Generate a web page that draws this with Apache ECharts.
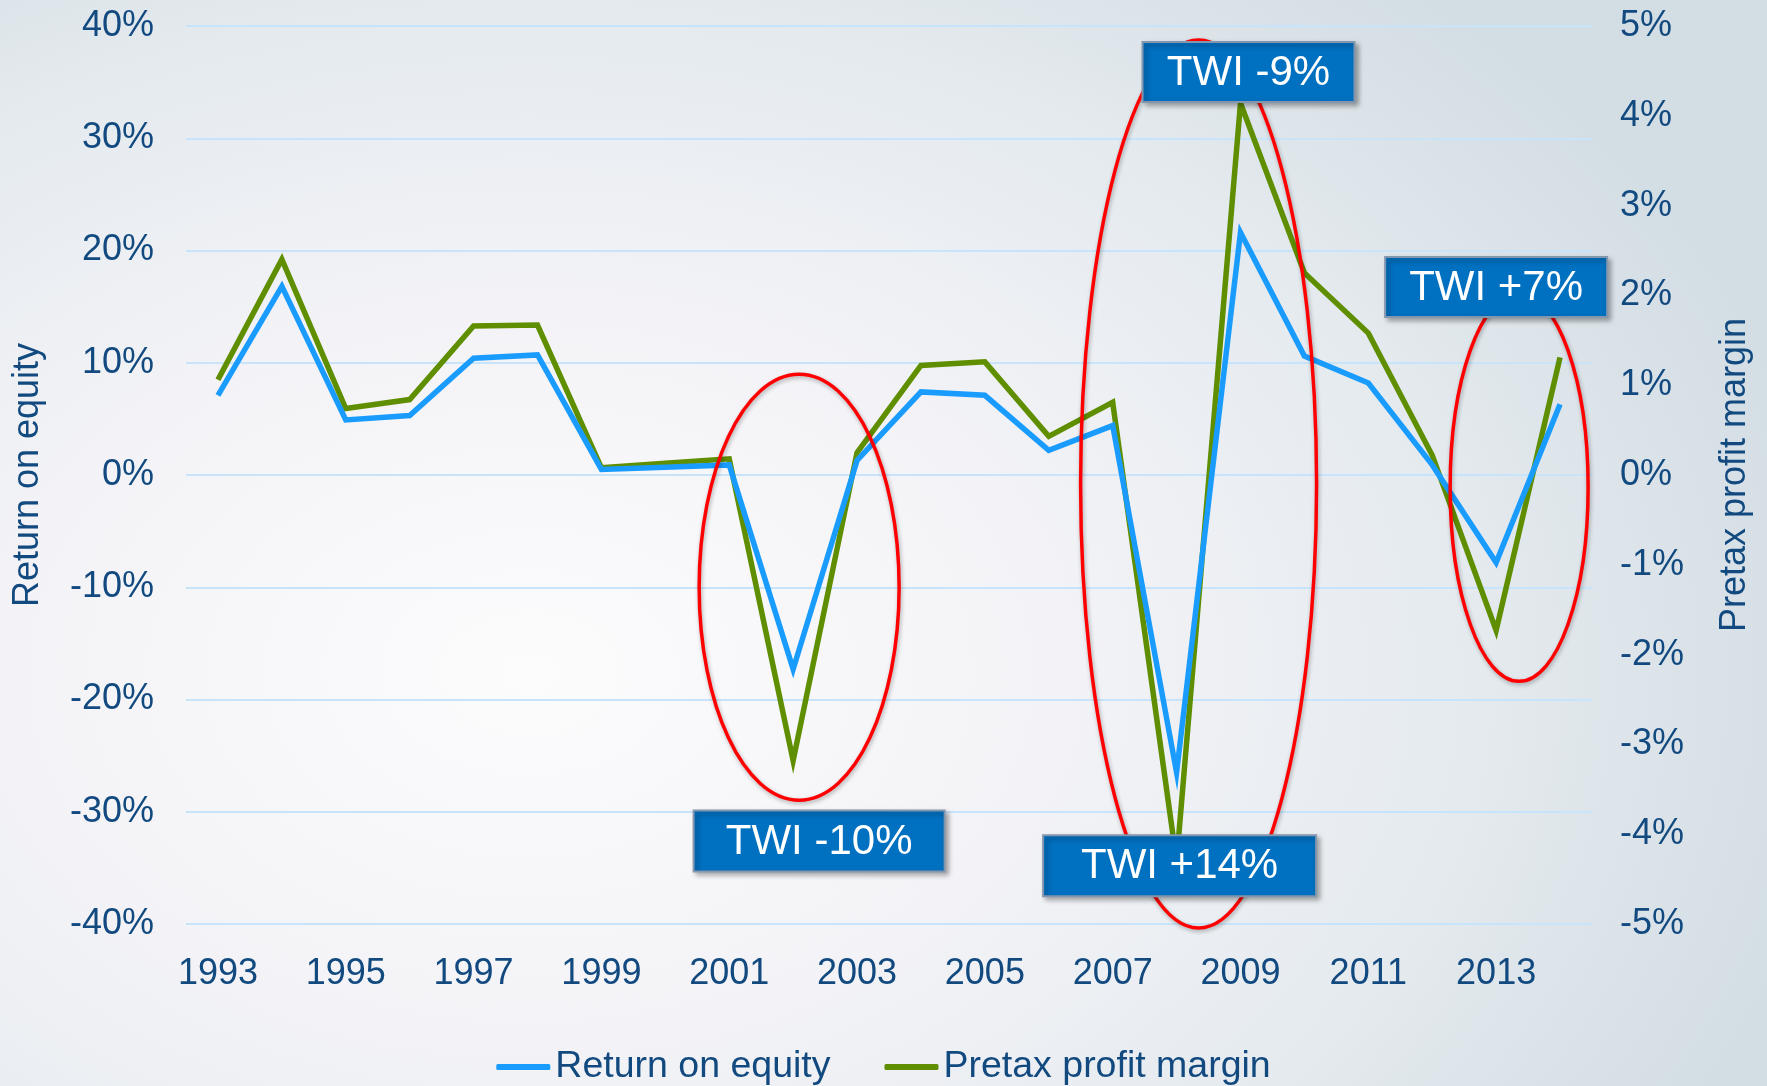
<!DOCTYPE html>
<html>
<head>
<meta charset="utf-8">
<title>Return on equity vs pretax profit margin</title>
<script src="https://cdn.jsdelivr.net/npm/echarts@6/dist/echarts.min.js"></script>
<style>
  html, body { margin: 0; padding: 0; }
  #chart {
    width: 1767px;
    height: 1086px;
    background: radial-gradient(ellipse 75% 85% at 30% 62%, #fcfcfd 0%, #f3f3f7 40%, #e4eaee 72%, #d3dde4 100%);
  }
</style>
</head>
<body>
<div id="chart"></div>
<script>
  // values
  var years = ['1993', '1994', '1995', '1996', '1997', '1998', '1999', '2000', '2001', '2002', '2003',
               '2004', '2005', '2006', '2007', '2008', '2009', '2010', '2011', '2012', '2013', '2014'];
  var roe = [7.1, 16.8, 4.9, 5.3, 10.4, 10.7, 0.5, 0.7, 0.9, -17.3, 1.3,
             7.4, 7.1, 2.2, 4.4, -26.5, 21.6, 10.6, 8.2, 0.9, -7.8, 6.3];
  var pretax = [1.06, 2.40, 0.74, 0.84, 1.66, 1.67, 0.08, 0.13, 0.18, -3.18, 0.25,
                1.22, 1.26, 0.43, 0.81, -4.3, 4.14, 2.25, 1.58, 0.22, -1.73, 1.31];

  // annotations, anchored to (year, return on equity value) plus a pixel shift
  var rings = [
    {year: '2002', value: -10, dx: 6, rx: 100, ry: 213},
    {year: '2008', value: -0.8, dx: 22, rx: 118, ry: 444},
    {year: '2013', value: -1.1, dx: 23, rx: 69, ry: 194}
  ];
  var notes = [
    {text: 'TWI -10%', year: '2002', value: -32.6, dx: 26, w: 251, h: 61},
    {text: 'TWI +14%', year: '2008', value: -34.8, dx: 3, w: 273, h: 61},
    {text: 'TWI -9%', year: '2009', value: 35.9, dx: 8, w: 212, h: 60},
    {text: 'TWI +7%', year: '2013', value: 16.75, dx: 0, w: 222, h: 60}
  ];

  var font = 'Liberation Sans, Arial, sans-serif';
  var ink = '#124a80';

  var myChart = echarts.init(document.getElementById('chart'));
  var option = {
    backgroundColor: 'transparent',
    textStyle: {fontFamily: font},
    grid: {left: 186, right: 175, top: 26, bottom: 162},
    legend: {
      top: 1043,
      left: 'center',
      icon: 'roundRect',
      itemWidth: 54,
      itemHeight: 6,
      itemGap: 54,
      textStyle: {fontSize: 37.5, color: ink, fontFamily: font},
      data: ['Return on equity', 'Pretax profit margin']
    },
    xAxis: {
      type: 'category',
      data: years,
      axisLine: {show: false},
      axisTick: {show: false},
      axisLabel: {interval: 1, fontSize: 36, color: ink, margin: 32}
    },
    yAxis: [
      {
        type: 'value',
        min: -40,
        max: 40,
        interval: 10,
        name: 'Return on equity',
        nameLocation: 'middle',
        nameGap: 140,
        nameTextStyle: {fontSize: 36, color: ink},
        axisLabel: {formatter: '{value}%', fontSize: 36, color: ink, margin: 32},
        splitLine: {lineStyle: {color: '#c8e4fb', width: 2}}
      },
      {
        type: 'value',
        min: -5,
        max: 5,
        interval: 1,
        position: 'right',
        name: 'Pretax profit margin',
        nameLocation: 'middle',
        nameRotate: 90,
        nameGap: 125,
        nameTextStyle: {fontSize: 36, color: ink},
        axisLabel: {formatter: '{value}%', fontSize: 36, color: ink, margin: 28},
        splitLine: {show: false}
      }
    ],
    series: [
      {
        name: 'Return on equity',
        type: 'line',
        data: roe,
        symbol: 'none',
        color: '#1a9cff',
        lineStyle: {width: 5.5, join: 'miter'},
        z: 3
      },
      {
        name: 'Pretax profit margin',
        type: 'line',
        yAxisIndex: 1,
        data: pretax,
        symbol: 'none',
        color: '#5f8e00',
        lineStyle: {width: 5.5, join: 'miter'},
        z: 2
      }
    ]
  };
  myChart.setOption(option);

  function at(year, value) {
    return myChart.convertToPixel({xAxisIndex: 0, yAxisIndex: 0}, [year, value]);
  }

  var shapes = [];
  rings.forEach(function (r) {
    var p = at(r.year, r.value);
    shapes.push({
      type: 'ellipse',
      z: 100,
      shape: {cx: p[0] + r.dx, cy: p[1], rx: r.rx, ry: r.ry},
      style: {
        fill: null,
        stroke: '#ff0000',
        lineWidth: 3.5,
        shadowBlur: 4,
        shadowOffsetX: 1,
        shadowOffsetY: 2,
        shadowColor: 'rgba(0,0,0,0.3)'
      }
    });
  });
  notes.forEach(function (n) {
    var p = at(n.year, n.value);
    var cx = p[0] + n.dx;
    shapes.push({
      type: 'rect',
      z: 110,
      shape: {x: cx - n.w / 2, y: p[1] - n.h / 2, width: n.w, height: n.h},
      style: {
        fill: '#0070c0',
        stroke: '#8296ae',
        lineWidth: 2,
        shadowBlur: 5,
        shadowOffsetX: 3,
        shadowOffsetY: 3,
        shadowColor: 'rgba(0,0,0,0.35)'
      }
    });
    shapes.push({
      type: 'text',
      z: 111,
      x: cx,
      y: p[1] + 1,
      style: {
        text: n.text,
        fill: '#ffffff',
        font: '42px ' + font,
        align: 'center',
        verticalAlign: 'middle'
      }
    });
  });
  myChart.setOption({graphic: {elements: shapes}});
</script>
</body>
</html>
